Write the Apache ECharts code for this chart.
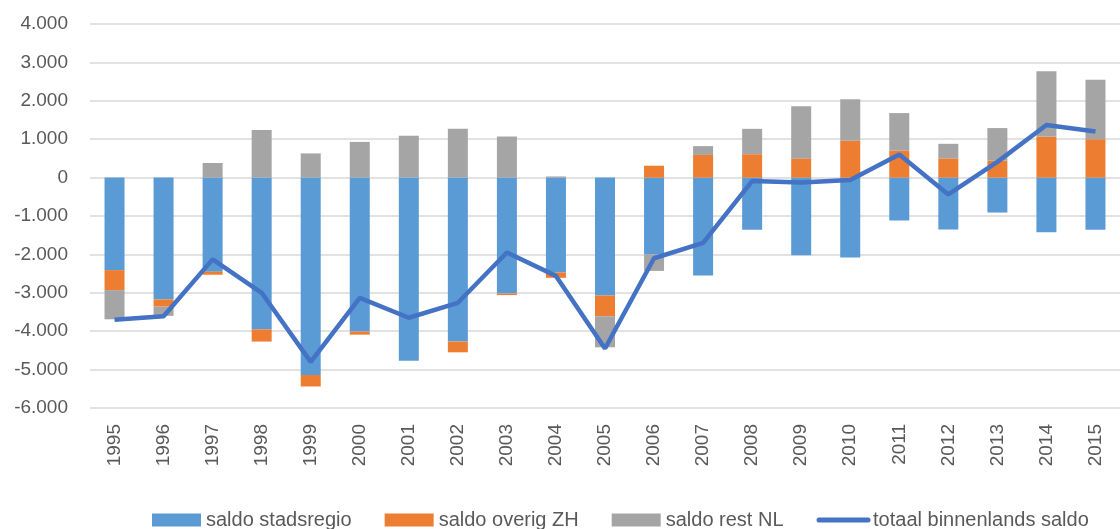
<!DOCTYPE html>
<html>
<head>
<meta charset="utf-8">
<script src="https://cdn.jsdelivr.net/npm/echarts@6/dist/echarts.min.js"></script>
<style>
html, body { margin: 0; padding: 0; background: #fff; }
#chart { width: 1120px; height: 529px; }
</style>
</head>
<body>
<div id="chart"></div>
<script>
var years = ['1995', '1996', '1997', '1998', '1999', '2000', '2001', '2002', '2003', '2004', '2005',
    '2006', '2007', '2008', '2009', '2010', '2011', '2012', '2013', '2014', '2015'];

// saldo stadsregio
var stadsregio = [-2410, -3170, -2450, -3950, -5140, -4010, -4770, -4270, -3020, -2470, -3070,
    -2000, -2550, -1360, -2020, -2080, -1120, -1350, -910, -1420, -1360];
// saldo overig ZH
var overigZH = [-520, -190, -80, -320, -300, -80, 0, -280, -40, -140, -540,
    310, 590, 610, 500, 960, 700, 500, 440, 1070, 1000];
// saldo rest NL
var restNL = [-760, -240, 380, 1240, 630, 930, 1090, 1270, 1070, 30, -810,
    -430, 230, 660, 1360, 1080, 980, 380, 850, 1700, 1550];
// totaal binnenlands saldo
var totaal = [-3700, -3610, -2130, -3000, -4800, -3130, -3650, -3260, -1950, -2560, -4450,
    -2100, -1700, -90, -130, -60, 600, -440, 410, 1370, 1200];

var chartDom = document.getElementById('chart');
var myChart = echarts.init(chartDom);
var option;

var textColor = '#595959';

option = {
    animation: false,
    textStyle: {
        fontFamily: 'Liberation Sans'
    },
    legend: {
        left: 152,
        top: 510,
        padding: 0,
        itemWidth: 49,
        itemHeight: 13,
        itemGap: 33,
        textStyle: {
            color: textColor,
            fontSize: 20
        },
        data: [
            { name: 'saldo stadsregio', icon: 'rect' },
            { name: 'saldo overig ZH', icon: 'rect' },
            { name: 'saldo rest NL', icon: 'rect' },
            {
                name: 'totaal binnenlands saldo',
                itemStyle: { opacity: 0 },
                lineStyle: { width: 5, cap: 'round', color: '#4472C4' }
            }
        ]
    },
    grid: {
        left: 90,
        right: -13,
        top: 24,
        height: 384
    },
    xAxis: {
        type: 'category',
        data: years,
        axisLine: { show: false },
        axisTick: { show: false },
        axisLabel: {
            rotate: 90,
            color: textColor,
            fontSize: 19,
            margin: 16,
            interval: 0
        }
    },
    yAxis: {
        type: 'value',
        min: -6000,
        max: 4000,
        interval: 1000,
        axisLabel: {
            color: textColor,
            fontSize: 19,
            margin: 22,
            formatter: function (value) {
                var s = Math.abs(value).toString().replace(/\B(?=(\d{3})+(?!\d))/g, '.');
                return (value < 0 ? '-' : '') + s;
            }
        },
        splitLine: {
            lineStyle: { color: '#d9d9d9', width: 1.5 }
        }
    },
    series: [{
        name: 'saldo stadsregio',
        type: 'bar',
        stack: 'saldo',
        barWidth: 20,
        itemStyle: { color: '#5B9BD5' },
        data: stadsregio
    }, {
        name: 'saldo overig ZH',
        type: 'bar',
        stack: 'saldo',
        barWidth: 20,
        itemStyle: { color: '#ED7D31' },
        data: overigZH
    }, {
        name: 'saldo rest NL',
        type: 'bar',
        stack: 'saldo',
        barWidth: 20,
        itemStyle: { color: '#A5A5A5' },
        data: restNL
    }, {
        name: 'totaal binnenlands saldo',
        type: 'line',
        symbol: 'none',
        z: 5,
        lineStyle: { color: '#4472C4', width: 4.5 },
        itemStyle: { color: '#4472C4' },
        data: totaal
    }]
};

option && myChart.setOption(option);
</script>
</body>
</html>
